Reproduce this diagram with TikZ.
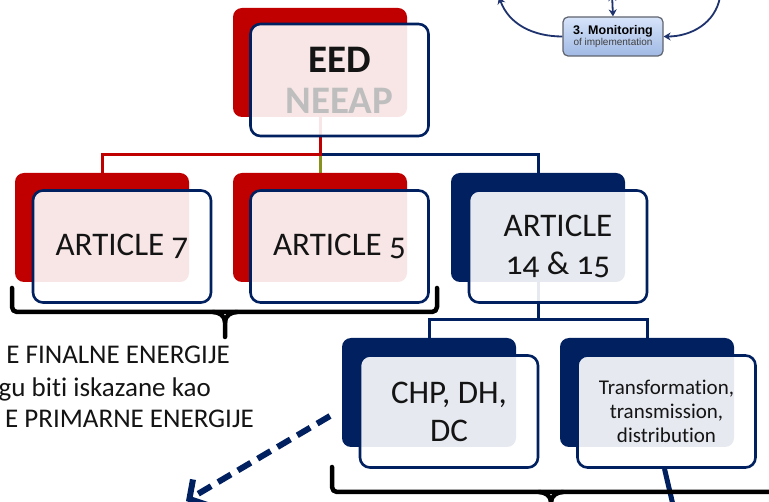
\documentclass[tikz,border=0pt]{standalone}
\usepackage{fontspec}
\setmainfont{Carlito}[Numbers=OldStyle, Ligatures=NoCommon]
\newfontfamily\arialf{Liberation Sans}
\usetikzlibrary{arrows.meta,calc,backgrounds}
\definecolor{navy}{RGB}{0,32,96}
\definecolor{darkred}{RGB}{192,0,0}
\definecolor{oliveline}{RGB}{135,145,30}
\definecolor{neeapgray}{RGB}{190,190,190}
\definecolor{monline}{RGB}{30,50,110}
\definecolor{monborder}{RGB}{95,100,110}
\definecolor{montop}{RGB}{215,228,250}
\definecolor{monbottom}{RGB}{160,185,228}
\definecolor{textblack}{RGB}{20,20,20}
\tikzset{
  backbox/.style={fill=#1, draw=none, rounded corners=9pt, minimum width=174pt, minimum height=109pt, inner sep=0pt, outer sep=0pt},
  frontbox/.style={draw=navy, line width=2.6pt, fill=white, fill opacity=0.9, text opacity=1, rounded corners=10pt, minimum width=178pt, minimum height=112pt, align=center, inner sep=0pt, text=textblack},
  conn/.style={line width=3pt},
  bracestyle/.style={draw=black, line width=4.5pt, line cap=round, line join=round},
  monarrow/.style={draw=monline, line width=1.8pt, -{Stealth[length=7pt,width=8pt]}},
  arttext/.style={font=\fontsize{33}{38}\selectfont},
  bodytext/.style={font=\fontsize{27}{32}\selectfont, text=textblack, inner sep=0pt}
}
\begin{document}
\begin{tikzpicture}[x=1pt,y=-1pt]
\useasboundingbox (0,0) rectangle (769,502);

% back boxes
\node[backbox=darkred] (eedb) at (320,62.5) {};
\node[backbox=darkred] (a7b) at (102,227.5) {};
\node[backbox=darkred] (a5b) at (320,227.5) {};
\node[backbox=navy] (a14b) at (538,227.5) {};
\node[backbox=navy] (chpb) at (429,392.5) {};
\node[backbox=navy] (trb) at (647,392.5) {};

\coordinate (bus1) at (0,155);
\coordinate (bus2) at (0,320);

\begin{scope}[on background layer]
  \fill[white] (0,0) rectangle (769,502);
  \draw[conn, oliveline] (eedb.south |- bus1) -- (a5b.north);
  \draw[conn, navy] (eedb.south |- bus1) -| (a14b.north);
  \draw[conn, darkred] (eedb.south) -- (eedb.south |- bus1) -| (a7b.north);
  \draw[conn, navy] (a14b.south) -- (a14b.south |- bus2) -| (chpb.north);
  \draw[conn, navy] (a14b.south |- bus2) -| (trb.north);
\end{scope}

% front boxes
\node[frontbox, font=\fontsize{39}{41}\selectfont\bfseries] (eed) at (339.5,80) {EED\\{\color{neeapgray}NEEAP}};
\node[frontbox, arttext] (a7) at (122,246.5) {ARTICLE 7};
\node[frontbox, arttext] (a5) at (339.5,246.5) {ARTICLE 5};
\node[frontbox, arttext] (a14) at (558,246.5) {ARTICLE\\14 \& 15};
\node[frontbox, arttext] (chp) at (449,411.5) {CHP, DH,\\DC};
\node[frontbox, font=\fontsize{21}{24}\selectfont] (tr) at (666.5,411.5) {Transformation,\\transmission,\\distribution};

% line below transformation box
\coordinate (trend) at (673,505);
\draw[navy, line width=5pt] ($(tr.south)+(-2,0)$) -- (trend);

% braces
\draw[bracestyle, rounded corners=5pt] (12,288) -- (12,312) -- (437,312) -- (437,288);
\draw[bracestyle] (213,312) to[out=0,in=90] (225,322) -- (225,337);
\draw[bracestyle] (237,312) to[out=180,in=90] (225,322);
\draw[bracestyle, rounded corners=5pt] (332,467) -- (332,492) -- (790,492);
\draw[bracestyle] (539,492) to[out=0,in=90] (551,502) -- (551,515);
\draw[bracestyle] (563,492) to[out=180,in=90] (551,502);

% body text
\node[bodytext, anchor=base east] (l1) at (230,363.5) {E FINALNE ENERGIJE};
\node[bodytext, anchor=base east] (l2) at (211,396.5) {gu biti iskazane kao};
\node[bodytext, anchor=base east] (l3) at (254,428) {E PRIMARNE ENERGIJE};

% dashed arrow
\coordinate (dstart) at (330,416);
\coordinate (dend) at (186,501);
\draw[navy, line width=6pt, dash pattern=on 15pt off 8pt, -{Straight Barb[length=13pt,width=30pt]}] (dstart) -- (dend);

% monitoring fragment
\node[draw=monborder, line width=1.2pt, rounded corners=5pt, top color=montop, bottom color=monbottom, minimum width=100pt, minimum height=39pt, align=center, inner sep=0pt] (mon) at (613,36.5)
  {{\arialf\bfseries\fontsize{12.5}{13}\selectfont 3. Monitoring}\\[-1pt]{\arialf\fontsize{10}{12}\selectfont\color{darkgray} of implementation}};
\coordinate (m1) at (499,-3);
\coordinate (m2) at (720,-3);
\coordinate (m3) at (612,-6);
\draw[monarrow] (mon.west) to[out=180,in=-70] (m1);
\draw[monarrow] (m2) to[out=-100,in=0] (mon.east);
\draw[monarrow, {Stealth[length=7pt,width=8pt]}-{Stealth[length=7pt,width=8pt]}] (m3) -- (mon.north);
\end{tikzpicture}
\end{document}
